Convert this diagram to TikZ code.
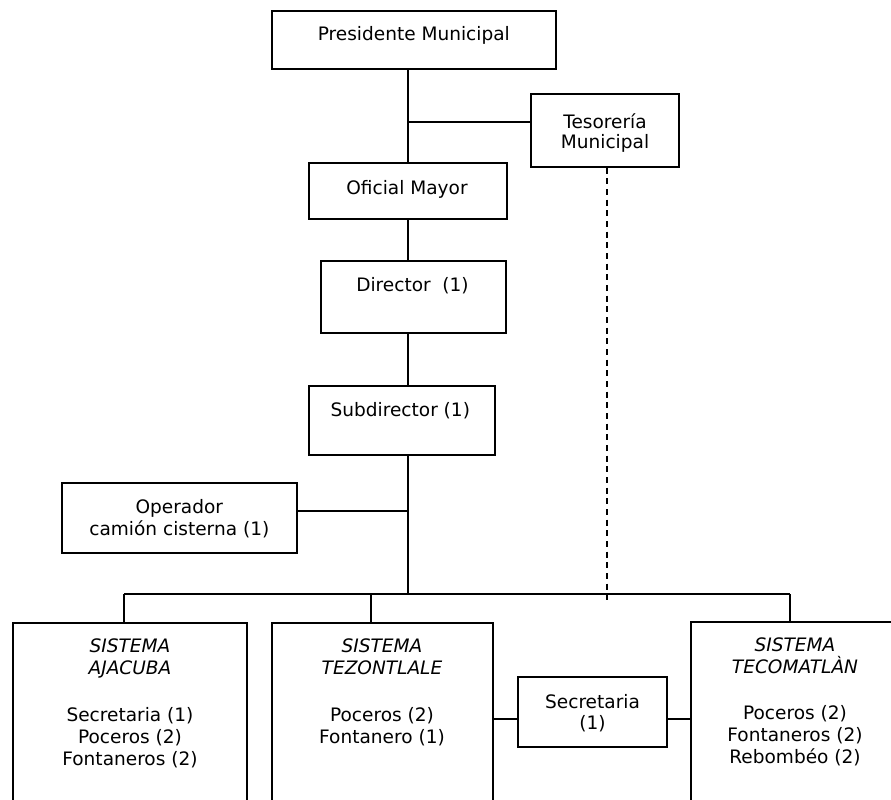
\documentclass[tikz,border=0pt]{standalone}
\usepackage{fontspec}
\setmainfont{DejaVu Sans}
\begin{document}
\begin{tikzpicture}[x=0.75pt,y=-0.75pt,
  line width=1.5pt,
  box/.style={draw, rectangle, inner sep=0pt},
  txt/.style={inner sep=0pt, anchor=north, align=center,
    font=\fontsize{13.9}{16.5}\selectfont, execute at begin node=\strut},
  dashline/.style={dashed, dash pattern=on 4.5pt off 3.5pt}]
\useasboundingbox (0,0) rectangle (891,799);
\clip (0,0) rectangle (891,799);

% boxes
\node[box, minimum width=284pt*0.75, minimum height=58.6pt*0.75] (pres) at (413.7,40) {};
\node[box, minimum width=148.6pt*0.75, minimum height=72.4pt*0.75] (teso) at (605,130.5) {};
\node[box, minimum width=197.7pt*0.75, minimum height=55.7pt*0.75] (ofic) at (407.8,191.2) {};
\node[box, minimum width=185pt*0.75, minimum height=72.6pt*0.75] (dir) at (413.2,297) {};
\node[box, minimum width=186pt*0.75, minimum height=68.8pt*0.75] (sub) at (401.5,420.1) {};
\node[box, minimum width=235.6pt*0.75, minimum height=70pt*0.75] (oper) at (179.5,517.7) {};
\node[box, minimum width=234.6pt*0.75, minimum height=207.5pt*0.75] (ajac) at (130,726.25) {};
\node[box, minimum width=221.6pt*0.75, minimum height=207.5pt*0.75] (tezo) at (382.5,726.25) {};
\node[box, minimum width=148.4pt*0.75, minimum height=69.4pt*0.75] (secr) at (592.5,712) {};
\node[box, minimum width=208pt*0.75, minimum height=208pt*0.75] (teco) at (795,726) {};

% texts
\node[txt] (presT) at (413.8,24.5) {Presidente Municipal};
\node[txt, font=\fontsize{13.9}{15}\selectfont] (tesoT) at (605,113) {Tesorería\\Municipal};
\node[txt] (oficT) at (407,178.5) {Oficial Mayor};
\node[txt] (dirT) at (412.5,275.2) {Director~~(1)};
\node[txt] (subT) at (400.3,400.2) {Subdirector (1)};
\node[txt] (operT) at (179.3,498.5) {Operador\\camión cisterna (1)};
\node[txt] (ajacT) at (130,637.5) {\textit{SISTEMA}\\\textit{AJACUBA}\\[19pt]Secretaria (1)\\Poceros (2)\\Fontaneros (2)};
\node[txt] (tezoT) at (382,637.5) {\textit{SISTEMA}\\\textit{TEZONTLALE}\\[19pt]Poceros (2)\\Fontanero (1)};
\node[txt, font=\fontsize{13.9}{15.8}\selectfont] (secrT) at (592.5,693.2) {Secretaria\\(1)};
\node[txt] (tecoT) at (795,636.8) {\textit{SISTEMA}\\\textit{TECOMATLÀN}\\[18pt]Poceros (2)\\Fontaneros (2)\\Rebombéo (2)};

% junction points
\coordinate (spine) at (407.7,0);
\coordinate (tj) at (407.7,121.7);
\coordinate (oj) at (407.7,510.7);
\coordinate (busL) at (124,594);
\coordinate (busM) at (371,594);
\coordinate (busC) at (407.7,594);
\coordinate (busR) at (790,594);
\coordinate (sj) at (0,719);
\coordinate (dashend) at (607.3,600);

% main vertical chain
\draw (pres.south -| spine) -- (ofic.north -| spine);
\draw (tj) -- (tj -| teso.west);
\draw (ofic.south -| spine) -- (dir.north -| spine);
\draw (dir.south -| spine) -- (sub.north -| spine);
\draw (sub.south -| spine) -- (busC);
\draw (oj) -- (oj -| oper.east);

% bus to the three systems
\draw (busL) -- (busR);
\draw (busL) -- (busL |- ajac.north);
\draw (busM) -- (busM |- tezo.north);
\draw (busR) -- (busR |- teco.north);

% secretaria link
\draw (tezo.east |- sj) -- (secr.west |- sj);
\draw (secr.east |- sj) -- (teco.west |- sj);

% dashed line from treasury
\draw[dashline] (teso.south -| dashend) -- (dashend);
\end{tikzpicture}
\end{document}
